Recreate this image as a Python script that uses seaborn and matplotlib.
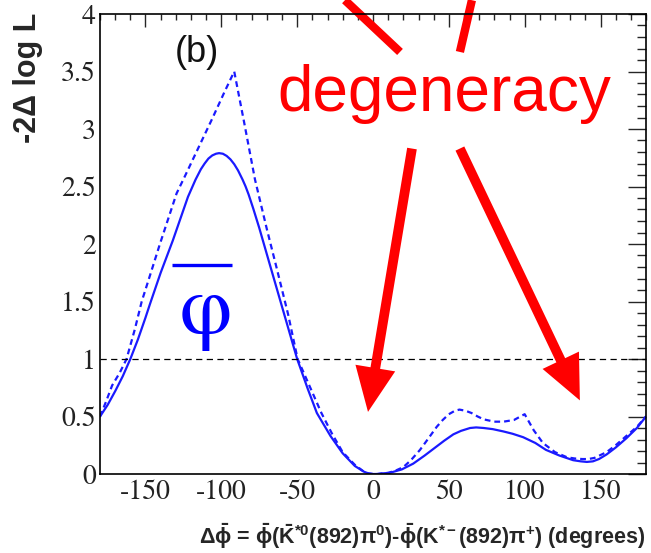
import matplotlib
matplotlib.use("Agg")
import matplotlib.pyplot as plt
from matplotlib.font_manager import FontProperties
import numpy as np
import pandas as pd
import seaborn as sns

# ---- data ----
solid_x = [-180, -175, -170, -165, -160, -155, -150, -147, -140, -132, -127, -122, -120, -117, -113.5, -111,
           -108.5, -106, -103.5, -101.5, -99, -96.5, -94, -91.5, -89, -86, -84, -82, -79, -75, -68, -59,
           -50, -43, -37, -28, -20, -12, -6, -3, 0, 3, 6, 11, 19, 26.5, 34, 42, 47, 53, 58, 64, 68, 73, 79,
           86, 92, 99, 107, 114, 123, 132, 137, 141, 145, 149, 154, 160, 167, 174, 180]
solid_y = [0.50, 0.60, 0.72, 0.85, 1.00, 1.17, 1.36, 1.48, 1.75, 2.03, 2.22, 2.41, 2.47, 2.56, 2.65, 2.70,
           2.743, 2.77, 2.785, 2.79, 2.785, 2.766, 2.736, 2.694, 2.64, 2.56, 2.50, 2.43, 2.31, 2.14, 1.82, 1.41,
           1.00, 0.74, 0.53, 0.33, 0.18, 0.07, 0.02, 0.005, 0.00, 0.00, 0.005, 0.01, 0.04, 0.09, 0.16, 0.24,
           0.29, 0.345, 0.375, 0.40, 0.405, 0.40, 0.39, 0.37, 0.35, 0.32, 0.27, 0.21, 0.16, 0.12, 0.11, 0.105,
           0.11, 0.13, 0.17, 0.23, 0.31, 0.40, 0.50]

dash_x = [-180, -176, -172, -167, -162.5, -157, -152.5, -146, -140.5, -135, -129.5, -124, -115, -106, -98,
          -91.5, -85, -77.8, -70, -63.5, -56, -49.7, -42, -34, -27, -20, -12, -6, -3, 0, 3, 6, 10, 15, 20,
          25, 31, 36, 42, 46, 50, 54, 57, 61, 65, 69, 73, 80, 86, 93, 100, 106, 112, 120, 128, 133, 138,
          142, 146, 154, 160, 167, 174, 180]
dash_y = [0.50, 0.63, 0.77, 0.88, 1.00, 1.26, 1.50, 1.77, 2.00, 2.22, 2.44, 2.59, 2.84, 3.09, 3.32,
          3.50, 3.06, 2.56, 2.13, 1.79, 1.39, 1.00, 0.77, 0.53, 0.35, 0.19, 0.08, 0.02, 0.005, 0.00, 0.00,
          0.005, 0.01, 0.03, 0.06, 0.12, 0.21, 0.30, 0.41, 0.47, 0.52, 0.55, 0.56, 0.55, 0.53, 0.50, 0.475,
          0.455, 0.455, 0.47, 0.52, 0.38, 0.27, 0.19, 0.145, 0.135, 0.13, 0.13, 0.14, 0.19, 0.25, 0.33, 0.41,
          0.50]

x_ticks = [-150, -100, -50, 0, 50, 100, 150]
x_tick_labels = ["-150", "-100", "-50", "0", "50", "100", "150"]
y_ticks = [0, 0.5, 1, 1.5, 2, 2.5, 3, 3.5, 4]
y_tick_labels = ["0", "0.5", "1", "1.5", "2", "2.5", "3", "3.5", "4"]
ref_level = 1.0

# annotation arrows (tail -> tip), data coordinates
arrow_tails = [(25.7, 2.83), (57.3, 2.83)]
arrow_tips = [(-3.3, 0.54), (136.4, 0.64)]
up_lines = [((-18.5, 4.12), (17.8, 3.67)), ((65.2, 4.12), (57.3, 3.67))]

# ---- styling ----
sns.set_style("white")
plt.rcParams["font.family"] = ["Liberation Sans", "DejaVu Sans"]
plt.rcParams["mathtext.fontset"] = "custom"
plt.rcParams["mathtext.rm"] = "Liberation Sans"
plt.rcParams["mathtext.bf"] = "Liberation Sans:bold"
plt.rcParams["mathtext.it"] = "Liberation Sans:italic"

SERIF = ["STIXGeneral", "Liberation Serif", "DejaVu Serif"]

fig = plt.figure(figsize=(6.51, 5.53), dpi=100)
ax = fig.add_axes([100 / 651, 1 - 474 / 553, 546 / 651, 460 / 553])

df_s = pd.DataFrame({"x": solid_x, "y": solid_y})
df_d = pd.DataFrame({"x": dash_x, "y": dash_y})
blue = "#1a1aff"
sns.lineplot(data=df_s, x="x", y="y", ax=ax, color=blue, lw=1.6, sort=False, estimator=None)
sns.lineplot(data=df_d, x="x", y="y", ax=ax, color=blue, lw=1.6, sort=False, estimator=None,
             linestyle=(0, (2.6, 1.8)))
ax.axhline(ref_level, color="black", lw=0.9, linestyle=(0, (5, 3.5)))

ax.set_xlim(-180, 180)
ax.set_ylim(0, 4)
ax.set_xticks(np.arange(-180, 181, 10), minor=True)
ax.set_yticks(np.arange(0, 4.01, 0.1), minor=True)
ax.tick_params(axis="x", which="major", direction="in", length=9, width=1.0, top=True, pad=4)
ax.tick_params(axis="x", which="minor", direction="in", length=4.5, width=1.0, top=True)
ax.tick_params(axis="y", which="major", direction="in", length=13, width=1.0, right=True, pad=3)
ax.tick_params(axis="y", which="minor", direction="in", length=6.5, width=1.0, right=True)
ax.set_xticks(x_ticks)
ax.set_xticklabels(x_tick_labels)
ax.set_yticks(y_ticks)
ax.set_yticklabels(y_tick_labels)
ax.tick_params(axis="both", which="major", labelsize=20, labelcolor="#222222",
               labelfontfamily=SERIF)
for sp in ax.spines.values():
    sp.set_color("black")
    sp.set_linewidth(1.2)

ax.set_ylabel("-2\u0394 log L", fontsize=22, fontweight="bold")
ax.yaxis.label.set_rotation_mode("default")
ax.yaxis.label.set_ha("center")
ax.yaxis.label.set_va("top")
ax.yaxis.set_label_coords((28 - 100) / 546, 1.002)

xl = (r"$\mathbf{\Delta\bar{\phi}}$ = $\mathbf{\bar{\phi}(\bar{K}^{*0}(892)\pi^{0})}$-"
      r"$\mathbf{\bar{\phi}(K^{*-}(892)\pi^{+})}$ (degrees)")
ax.set_xlabel(xl, fontsize=15.5, fontweight="bold")
ax.xaxis.label.set_ha("right")
ax.xaxis.label.set_va("center")
ax.xaxis.set_label_coords(0.998, (474 - 536) / 460)

# panel label and symbol
ax.text((197 - 100) / 546, (474 - 52) / 460, "(b)", transform=ax.transAxes, fontsize=26,
        ha="center", va="center", color="#111111")
ax.text((206 - 100) / 546, (474 - 314) / 460, "\u03c6", transform=ax.transAxes,
        family=SERIF, fontsize=60, color="#0000ff", ha="center", va="center")
ax.plot([(172 - 100) / 546, (232 - 100) / 546], [(474 - 265) / 460] * 2, transform=ax.transAxes,
        color="#0000ff", lw=2.4, solid_capstyle="butt")

# degeneracy annotation
ax.text((444 - 100) / 546, (474 - 111) / 460, "degeneracy", transform=ax.transAxes, fontsize=46,
        ha="center", va="baseline", color="#ff0000")
for (tx, ty), (hx, hy) in zip(arrow_tails, arrow_tips):
    ax.annotate("", xy=(hx, hy), xytext=(tx, ty),
                arrowprops=dict(arrowstyle="simple,head_length=3.2,head_width=2.9,tail_width=0.7",
                                mutation_scale=10, color="#ff0000", lw=0, shrinkA=0, shrinkB=0))
for (x0, y0), (x1, y1) in up_lines:
    ax.plot([x0, x1], [y0, y1], color="#ff0000", lw=6, clip_on=False, solid_capstyle="butt")

fig.savefig("out.png", dpi=100)
